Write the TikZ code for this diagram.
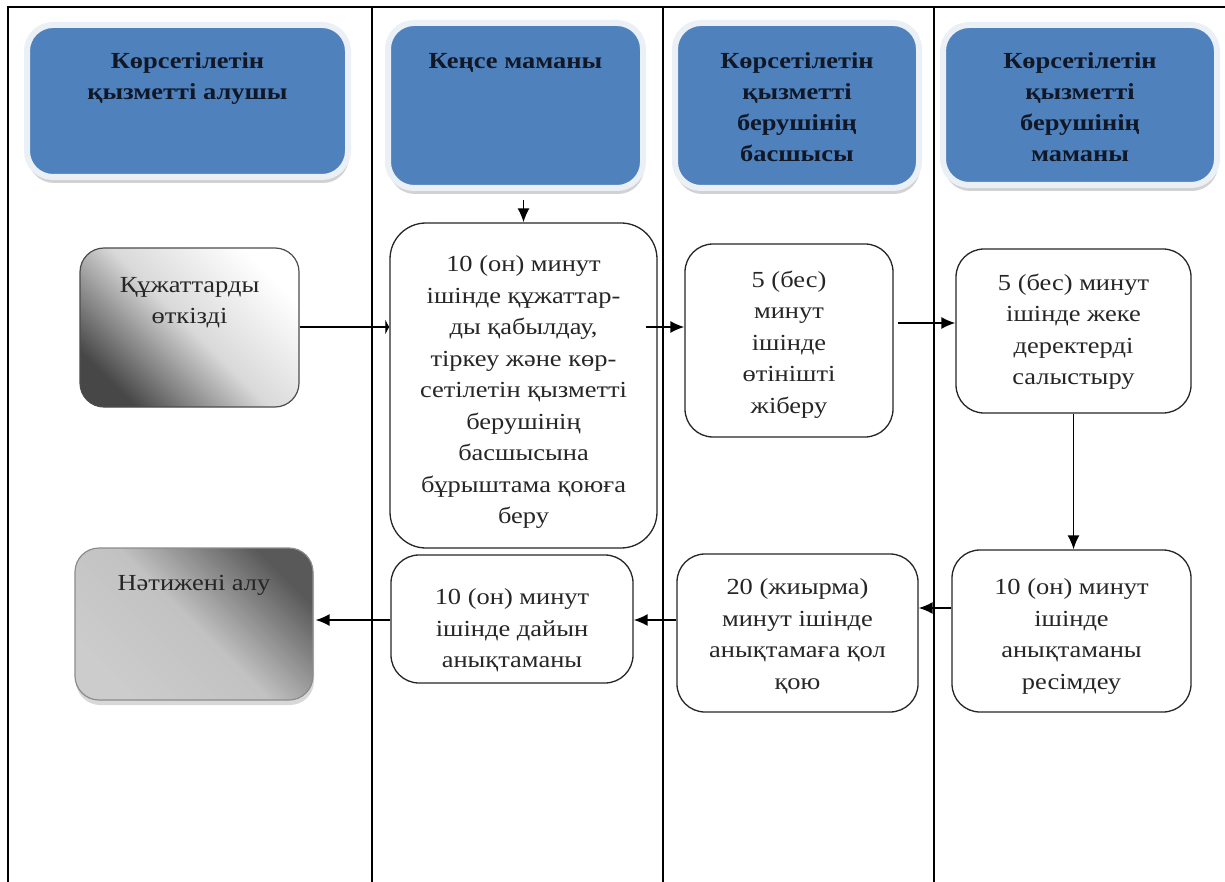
\documentclass[tikz,border=0pt]{standalone}
\usepackage{fontspec}
\setmainfont{Liberation Serif}[FakeStretch=1.15]
\usepackage{tikz}
\usetikzlibrary{arrows.meta, shadows}
\tikzset{>={Latex[length=14pt,width=12pt]}}
\definecolor{hdrblue}{RGB}{79,129,189}
\definecolor{hdrglow}{RGB}{234,240,246}
\definecolor{hdrtext}{RGB}{16,24,40}
\newcommand{\boxtext}[4]{\parbox[c][#2][t]{#1}{\centering\vspace*{#3}#4}}
\tikzset{
  header/.style={rounded corners=26pt, fill=hdrblue, draw=hdrglow, line width=6pt, inner sep=0pt,
    text=hdrtext, font=\bfseries\fontsize{23}{31}\selectfont,
    drop shadow={shadow xshift=1pt, shadow yshift=-6pt, fill=black!35}},
  process/.style={rounded corners=28pt, draw=black!85, line width=1.3pt, fill=white, inner sep=0pt,
    text=black!85, font=\fontsize{23}{31.5}\selectfont},
  docbox/.style={rounded corners=24pt, draw=black!70, line width=1.2pt, inner sep=0pt,
    text=black!85, font=\fontsize{23}{31.5}\selectfont},
  lane/.style={line width=1.3pt}
}
\begin{document}
\begin{tikzpicture}[x=1pt,y=-1pt]
\useasboundingbox (0,0) rectangle (1225,882);
% swimlanes
\draw[lane] (8,882) -- (8,7) -- (1225,7);
\foreach \lx in {372,663,934}
  \draw[lane] (\lx,7) -- (\lx,882);

% lane headers
\node[header] (recv) at (187.5,101) {\boxtext{321pt}{152pt}{28pt}{Көрсетілетін\\ қызметті алушы}};
\node[header] (clerk) at (515.5,105.5) {\boxtext{255pt}{165pt}{30pt}{Кеңсе маманы}};
\node[header] (head) at (797,105.5) {\boxtext{244pt}{165pt}{30pt}{Көрсетілетін\\ қызметті\\ берушінің\\ басшысы}};
\node[header] (spec) at (1080,105) {\boxtext{274pt}{160pt}{28pt}{Көрсетілетін\\ қызметті\\ берушінің\\ маманы}};

% steps
\node[docbox, top color=white, bottom color=black!72, middle color=black!15, shading angle=-45]
  (submit) at (189.5,327.5) {\boxtext{219pt}{159pt}{29pt}{Құжаттарды\\ өткізді}};
\node[process, rounded corners=36pt] (accept) at (523.5,385.5) {\boxtext{267pt}{325pt}{33pt}{10 (он) минут\\ ішінде құжаттар-\\ ды қабылдау,\\ тіркеу және көр-\\ сетілетін қызметті\\ берушінің\\ басшысына\\ бұрыштама қоюға\\ беру}};
\node[process] (send) at (789,340.5) {\boxtext{208pt}{193pt}{27pt}{5 (бес)\\ минут\\ ішінде\\ өтінішті\\ жіберу}};
\node[process] (check) at (1073.5,331) {\boxtext{235pt}{164pt}{25pt}{5 (бес) минут\\ ішінде жеке\\ деректерді\\ салыстыру}};
\node[process] (draft) at (1071.5,631) {\boxtext{239pt}{162pt}{29pt}{10 (он) минут\\ ішінде\\ анықтаманы\\ ресімдеу}};
\node[process] (sign) at (797.5,633) {\boxtext{241pt}{158pt}{25pt}{20 (жиырма)\\ минут ішінде\\ анықтамаға қол\\ қою}};
\node[process] (issue) at (512,619) {\boxtext{242pt}{128pt}{34pt}{10 (он) минут\\ ішінде дайын\\ анықтаманы}};
\node[docbox, draw=black!45, top color=black!65, bottom color=black!20, middle color=black!24, shading angle=-45,
  drop shadow={shadow xshift=1pt, shadow yshift=-5pt, fill=black!30}]
  (result) at (194,624) {\boxtext{238pt}{152pt}{27pt}{Нәтижені алу}};

% arrow levels
\coordinate (r1) at (0,327);
\coordinate (r2) at (0,323);
\coordinate (r3) at (0,608);
\coordinate (r4) at (0,620);

\path[->, line width=1.6pt]
(clerk.south -| accept.north) ++(0,9) edge (accept.north)
(submit.east |- r1) edge[-{Latex[length=4pt,width=16pt]}] (accept.west |- r1)
([xshift=-12pt]accept.east |- r1) edge (send.west |- r1)
([xshift=4pt]send.east |- r2) edge (check.west |- r2)
(check.south) edge (check.south |- draft.north)
(draft.west |- r3) edge (sign.east |- r3)
(sign.west |- r4) edge (issue.east |- r4)
(issue.west |- r4) edge ([xshift=2pt]result.east |- r4)
;
\end{tikzpicture}
\end{document}
